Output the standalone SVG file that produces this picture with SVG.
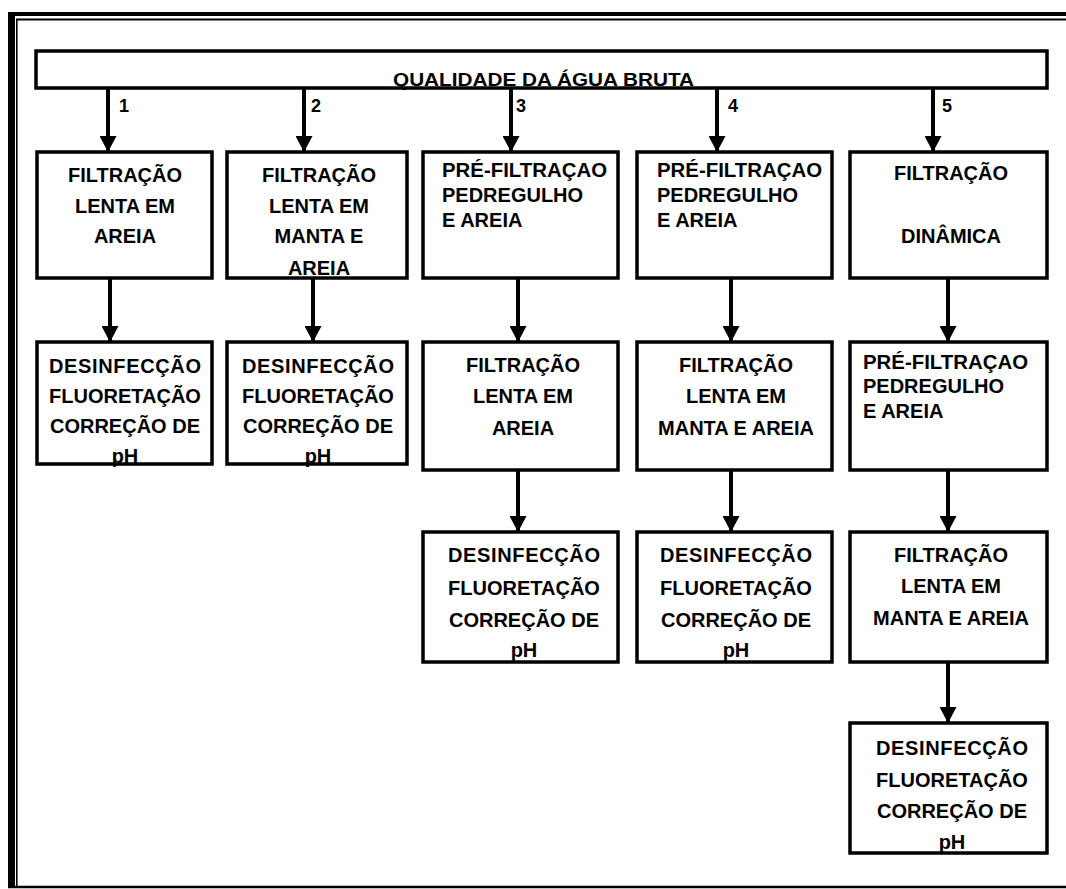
<svg xmlns="http://www.w3.org/2000/svg" width="1066" height="889" viewBox="0 0 1066 889">
  <style>
    .box { fill: #fff; stroke: #000; stroke-width: 3.5; }
    .bar { fill: #fff; stroke: #000; stroke-width: 3.5; }
    .frame { stroke: #000; fill: none; }
    .wire { stroke: #000; stroke-width: 4; fill: none; marker-end: url(#head); }
    text { font-family: "Liberation Sans", Arial, sans-serif; font-weight: bold; fill: #000; }
    .t { font-size: 20px; text-anchor: middle; }
    .l { font-size: 20px; text-anchor: start; }
    .num { font-size: 18px; }
    .title { font-size: 19px; }
  </style>
  <defs>
    <marker id="head" markerUnits="userSpaceOnUse" markerWidth="17" markerHeight="17" refX="16" refY="8.5" orient="auto">
      <path d="M0,0 L16,8.5 L0,17 z" fill="#000"/>
    </marker>
  </defs>

  <rect width="1066" height="889" fill="#fff"/>

  <!-- outer double frame: left, top and bottom rules -->
  <g id="frame">
    <rect x="8" y="12" width="7" height="876" fill="#000"/>
    <line class="frame" x1="16.8" y1="19" x2="16.8" y2="887" stroke-width="1.6"/>
    <rect x="8" y="12" width="1058" height="4" fill="#000"/>
    <line class="frame" x1="16" y1="19.5" x2="1066" y2="19.5" stroke-width="2"/>
    <line class="frame" x1="8" y1="887" x2="1066" y2="887" stroke-width="2.5"/>
  </g>

  <!-- source bar -->
  <g id="agua-bruta">
    <rect class="bar" x="36" y="51" width="1011" height="37"/>
    <text class="title" x="393" y="86" textLength="301" lengthAdjust="spacingAndGlyphs">QUALIDADE DA ÁGUA BRUTA</text>
  </g>

  <!-- connectors -->
  <g id="connectors">
    <line class="wire" x1="108" y1="88" x2="108" y2="152"/>
    <line class="wire" x1="304" y1="88" x2="304" y2="152"/>
    <line class="wire" x1="511" y1="88" x2="511" y2="152"/>
    <line class="wire" x1="717" y1="88" x2="717" y2="152"/>
    <line class="wire" x1="933" y1="88" x2="933" y2="152"/>

    <line class="wire" x1="110" y1="278" x2="110" y2="342"/>
    <line class="wire" x1="313" y1="278" x2="313" y2="342"/>
    <line class="wire" x1="518" y1="278" x2="518" y2="342"/>
    <line class="wire" x1="731" y1="278" x2="731" y2="342"/>
    <line class="wire" x1="948" y1="278" x2="948" y2="342"/>

    <line class="wire" x1="518" y1="470" x2="518" y2="532"/>
    <line class="wire" x1="731" y1="470" x2="731" y2="532"/>
    <line class="wire" x1="948" y1="470" x2="948" y2="532"/>

    <line class="wire" x1="948" y1="662" x2="948" y2="723"/>

    <text class="num" x="119" y="112">1</text>
    <text class="num" x="311" y="112">2</text>
    <text class="num" x="516" y="112">3</text>
    <text class="num" x="728" y="112">4</text>
    <text class="num" x="942" y="112">5</text>
  </g>

  <!-- route 1 -->
  <g id="r1-filtracao-lenta">
    <rect class="box" x="37" y="152" width="175" height="126"/>
    <text class="t" x="125" y="182">FILTRAÇÃO</text>
    <text class="t" x="125" y="213">LENTA EM</text>
    <text class="t" x="125" y="243">AREIA</text>
  </g>
  <g id="r1-desinfeccao">
    <rect class="box" x="37" y="342" width="175" height="122"/>
    <text class="t" x="125" y="373" textLength="152" lengthAdjust="spacing">DESINFECÇÃO</text>
    <text class="t" x="125" y="403">FLUORETAÇÃO</text>
    <text class="t" x="125" y="433">CORREÇÃO DE</text>
    <text class="t" x="125" y="463">pH</text>
  </g>

  <!-- route 2 -->
  <g id="r2-filtracao-manta">
    <rect class="box" x="227" y="152" width="180" height="126"/>
    <text class="t" x="319" y="182">FILTRAÇÃO</text>
    <text class="t" x="319" y="213">LENTA EM</text>
    <text class="t" x="319" y="243">MANTA E</text>
    <text class="t" x="319" y="275">AREIA</text>
  </g>
  <g id="r2-desinfeccao">
    <rect class="box" x="227" y="342" width="180" height="122"/>
    <text class="t" x="318" y="373" textLength="152" lengthAdjust="spacing">DESINFECÇÃO</text>
    <text class="t" x="318" y="403">FLUORETAÇÃO</text>
    <text class="t" x="318" y="433">CORREÇÃO DE</text>
    <text class="t" x="318" y="463">pH</text>
  </g>

  <!-- route 3 -->
  <g id="r3-pre-filtracao">
    <rect class="box" x="423" y="152" width="195" height="126"/>
    <text class="l" x="442" y="177" textLength="165" lengthAdjust="spacingAndGlyphs">PRÉ-FILTRAÇAO</text>
    <text class="l" x="442" y="202">PEDREGULHO</text>
    <text class="l" x="442" y="227">E AREIA</text>
  </g>
  <g id="r3-filtracao-lenta">
    <rect class="box" x="423" y="342" width="195" height="128"/>
    <text class="t" x="523" y="372">FILTRAÇÃO</text>
    <text class="t" x="523" y="403">LENTA EM</text>
    <text class="t" x="523" y="435">AREIA</text>
  </g>
  <g id="r3-desinfeccao">
    <rect class="box" x="423" y="532" width="195" height="130"/>
    <text class="t" x="524" y="562" textLength="152" lengthAdjust="spacing">DESINFECÇÃO</text>
    <text class="t" x="524" y="595">FLUORETAÇÃO</text>
    <text class="t" x="524" y="627">CORREÇÃO DE</text>
    <text class="t" x="524" y="657">pH</text>
  </g>

  <!-- route 4 -->
  <g id="r4-pre-filtracao">
    <rect class="box" x="637" y="152" width="195" height="126"/>
    <text class="l" x="657" y="177" textLength="165" lengthAdjust="spacingAndGlyphs">PRÉ-FILTRAÇAO</text>
    <text class="l" x="657" y="202">PEDREGULHO</text>
    <text class="l" x="657" y="227">E AREIA</text>
  </g>
  <g id="r4-filtracao-manta">
    <rect class="box" x="637" y="342" width="195" height="128"/>
    <text class="t" x="736" y="372">FILTRAÇÃO</text>
    <text class="t" x="736" y="403">LENTA EM</text>
    <text class="t" x="736" y="435">MANTA E AREIA</text>
  </g>
  <g id="r4-desinfeccao">
    <rect class="box" x="637" y="532" width="195" height="130"/>
    <text class="t" x="736" y="562" textLength="152" lengthAdjust="spacing">DESINFECÇÃO</text>
    <text class="t" x="736" y="595">FLUORETAÇÃO</text>
    <text class="t" x="736" y="627">CORREÇÃO DE</text>
    <text class="t" x="736" y="657">pH</text>
  </g>

  <!-- route 5 -->
  <g id="r5-filtracao-dinamica">
    <rect class="box" x="850" y="152" width="197" height="126"/>
    <text class="t" x="951" y="180">FILTRAÇÃO</text>
    <text class="t" x="951" y="243">DINÂMICA</text>
  </g>
  <g id="r5-pre-filtracao">
    <rect class="box" x="850" y="342" width="197" height="128"/>
    <text class="l" x="863" y="369" textLength="165" lengthAdjust="spacingAndGlyphs">PRÉ-FILTRAÇAO</text>
    <text class="l" x="863" y="393">PEDREGULHO</text>
    <text class="l" x="863" y="418">E AREIA</text>
  </g>
  <g id="r5-filtracao-manta">
    <rect class="box" x="850" y="532" width="197" height="130"/>
    <text class="t" x="951" y="562">FILTRAÇÃO</text>
    <text class="t" x="951" y="593">LENTA EM</text>
    <text class="t" x="951" y="625">MANTA E AREIA</text>
  </g>
  <g id="r5-desinfeccao">
    <rect class="box" x="850" y="723" width="197" height="130"/>
    <text class="t" x="952" y="755" textLength="152" lengthAdjust="spacing">DESINFECÇÃO</text>
    <text class="t" x="952" y="787">FLUORETAÇÃO</text>
    <text class="t" x="952" y="818">CORREÇÃO DE</text>
    <text class="t" x="952" y="849">pH</text>
  </g>
</svg>
